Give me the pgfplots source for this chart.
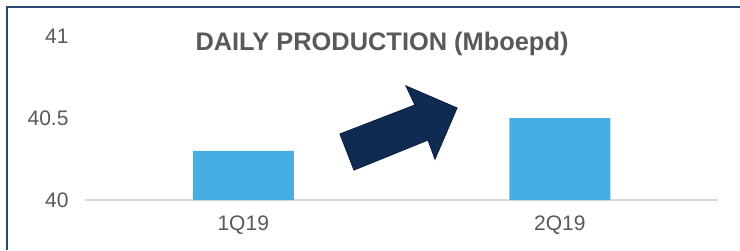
\documentclass[border=0pt]{standalone}
\usepackage{pgfplots}
\pgfplotsset{compat=1.18}
\usepackage{fontspec}
\setmainfont{Liberation Sans}
\definecolor{txt}{HTML}{595959}
\definecolor{barc}{HTML}{45AEE2}
\definecolor{navy}{HTML}{0F2B52}
\definecolor{frame}{HTML}{2B4670}
\definecolor{base}{HTML}{D9D9D9}
\begin{document}
\begin{tikzpicture}[x=1bp,y=1bp]
\useasboundingbox (-85,-50) rectangle (655,200);
\begin{axis}[
  at={(0,0)}, anchor=south west,
  scale only axis, width=633bp, height=164bp,
  xmin=-0.5, xmax=1.5, ymin=40, ymax=41,
  xtick=data, xticklabels={1Q19,2Q19},
  ytick={40,40.5,41}, yticklabels={40,40.5,41},
  axis x line*=bottom, axis y line*=left,
  x axis line style={draw=base, line width=1.5bp, -},
  y axis line style={draw=none},
  tick style={draw=none},
  tick label style={font=\fontsize{21bp}{25bp}\selectfont, text=txt},
  yticklabel style={anchor=east, xshift=-13bp},
  xticklabel style={yshift=-8bp},
  ybar, bar width=101bp,
  clip=false,
]
\addplot[fill=barc, draw=none] coordinates {(0,40.3) (1,40.5)};
\end{axis}
\draw[frame, line width=2bp] (-78,-50) -- (-78,193) -- (655,193);
\node[text=txt, font=\fontsize{25.4bp}{30bp}\selectfont\bfseries] at (297,156.5) {DAILY PRODUCTION (Mboepd)};
\draw[fill=navy, draw=navy!80!black, line width=1bp]
  (354-85,200-170) -- (340-85,200-134) -- (415-85,200-105) -- (406-85,200-86)
  -- (457-85,200-108) -- (435-85,200-159) -- (428-85,200-140) -- cycle;
\end{tikzpicture}
\end{document}
